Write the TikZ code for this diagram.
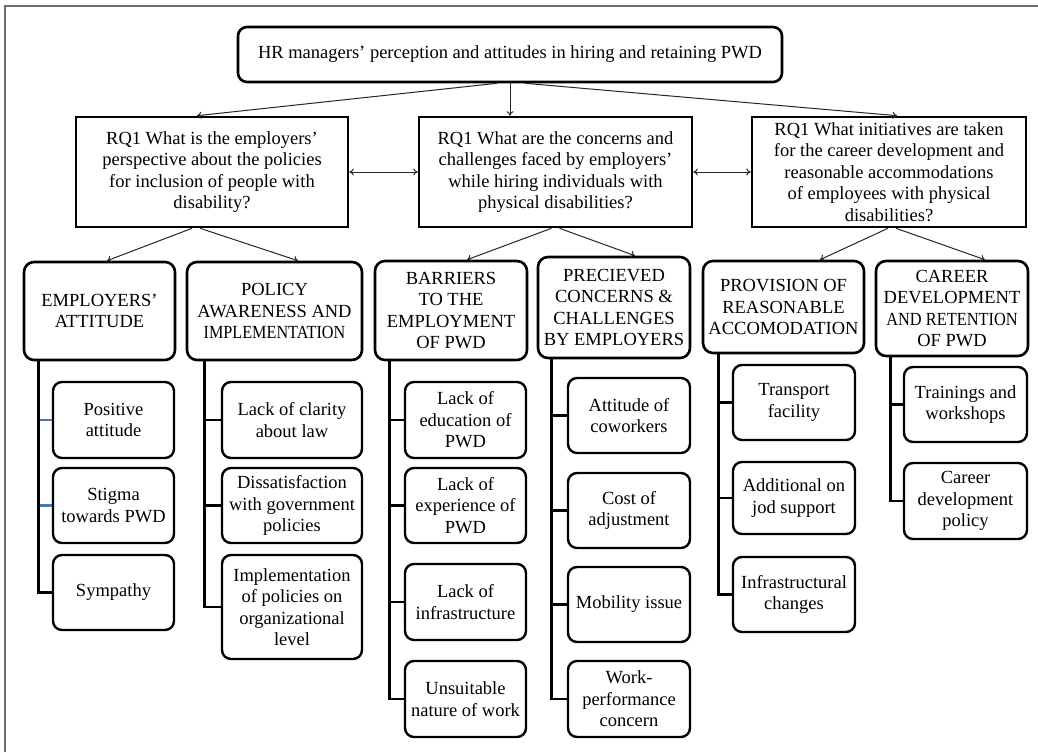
\documentclass[tikz,border=0pt]{standalone}
\usepackage{fontspec}
\usepackage{graphicx}
\setmainfont{Liberation Serif}
\usetikzlibrary{arrows.meta,calc}
\definecolor{framegray}{HTML}{6E6E6E}
\definecolor{branchblue}{HTML}{4A76B0}
\begin{document}
\begin{tikzpicture}[x=1pt,y=-1pt,
  every node/.style={font=\fontsize{18.5}{21.5}\selectfont, align=center, inner xsep=1pt, inner ysep=1pt, fill=white},
  topbox/.style={draw, line width=2.6pt, rounded corners=9pt},
  rqbox/.style={draw, line width=2.6pt},
  catbox/.style={draw, line width=2.6pt, rounded corners=10pt},
  leafbox/.style={draw, line width=2.4pt, rounded corners=9pt},
  arr/.style={-{To[length=4.5pt,width=7pt]}, line width=1pt, draw=black!85},
  darr/.style={{To[length=4.5pt,width=7pt]}-{To[length=4.5pt,width=7pt]}, line width=1pt, draw=black!85},
  trunk/.style={line width=2.6pt},
  bluebranch/.style={line width=2.6pt, draw=branchblue}
]
\useasboundingbox (0,0) rectangle (1038,752);
\draw[framegray, line width=2pt] (5,752) -- (5,6) -- (1038,6);

% top
\node[topbox, minimum width=544pt, minimum height=55pt] (top) at (510,54.5)
  {HR managers’ perception and attitudes in hiring and retaining PWD};

% research questions
\node[rqbox, minimum width=272pt, minimum height=110pt] (rq1) at (212,172)
  {RQ1 What is the employers’\\perspective about the policies\\for inclusion of people with\\disability?};
\node[rqbox, minimum width=273pt, minimum height=110pt] (rq2) at (555.5,172)
  {RQ1 What are the concerns and\\challenges faced by employers’\\while hiring individuals with\\physical disabilities?};
\node[rqbox, minimum width=274pt, minimum height=110pt] (rq3) at (889,172)
  {RQ1 What initiatives are taken\\for the career development and\\reasonable accommodations\\of employees with physical\\disabilities?};

% categories
\node[catbox, minimum width=151pt, minimum height=98pt] (c1) at (99.5,311)
  {EMPLOYERS’\\ATTITUDE};
\node[catbox, minimum width=175pt, minimum height=98pt] (c2) at (274.5,311)
  {POLICY\\AWARENESS AND\\\scalebox{0.875}[1]{IMPLEMENTATION}};
\node[catbox, minimum width=152pt, minimum height=99pt] (c3) at (451,310.5)
  {BARRIERS\\TO THE\\EMPLOYMENT\\OF PWD};
\node[catbox, minimum width=152pt, minimum height=101pt] (c4) at (614,307.5)
  {PRECIEVED\\CONCERNS \&\\CHALLENGES\\BY EMPLOYERS};
\node[catbox, minimum width=161pt, minimum height=92pt] (c5) at (783.5,307)
  {PROVISION OF\\REASONABLE\\ACCOMODATION};
\node[catbox, minimum width=152pt, minimum height=95pt] (c6) at (952,308.5)
  {CAREER\\DEVELOPMENT\\\scalebox{0.885}[1]{AND RETENTION}\\OF PWD};

% leaves
\node[leafbox, minimum width=121pt, minimum height=76pt] (p1) at (113.5,420) {Positive\\attitude};
\node[leafbox, minimum width=121pt, minimum height=75pt] (p2) at (113.5,505.5) {Stigma\\towards PWD};
\node[leafbox, minimum width=121pt, minimum height=75pt] (p3) at (113.5,592.5) {Sympathy};

\node[leafbox, minimum width=140pt, minimum height=76pt] (q1) at (292,420) {Lack of clarity\\about law};
\node[leafbox, minimum width=140pt, minimum height=75pt] (q2) at (292,505.5) {Dissatisfaction\\with government\\policies};
\node[leafbox, minimum width=140pt, minimum height=104pt] (q3) at (292,607) {Implementation\\of policies on\\organizational\\level};

\node[leafbox, minimum width=121pt, minimum height=76pt] (r1) at (465.5,420) {Lack of\\education of\\PWD};
\node[leafbox, minimum width=121pt, minimum height=75pt] (r2) at (465.5,505.5) {Lack of\\experience of\\PWD};
\node[leafbox, minimum width=121pt, minimum height=76pt] (r3) at (465.5,602) {Lack of\\infrastructure};
\node[leafbox, minimum width=121pt, minimum height=76pt] (r4) at (465.5,699) {Unsuitable\\nature of work};

\node[leafbox, minimum width=122pt, minimum height=75pt] (s1) at (629,415.5) {Attitude of\\coworkers};
\node[leafbox, minimum width=122pt, minimum height=75pt] (s2) at (629,510.5) {Cost of\\adjustment};
\node[leafbox, minimum width=122pt, minimum height=75pt] (s3) at (629,604.5) {Mobility issue};
\node[leafbox, minimum width=122pt, minimum height=76pt] (s4) at (629,699) {Work-\\performance\\concern};

\node[leafbox, minimum width=122pt, minimum height=75pt] (t1) at (794,402.5) {Transport\\facility};
\node[leafbox, minimum width=122pt, minimum height=72pt] (t2) at (794,498) {Additional on\\jod support};
\node[leafbox, minimum width=122pt, minimum height=75pt] (t3) at (794,594.5) {Infrastructural\\changes};

\node[leafbox, minimum width=123pt, minimum height=75pt] (u1) at (965.5,404.5) {Trainings and\\workshops};
\node[leafbox, minimum width=123pt, minimum height=76pt] (u2) at (965.5,501) {Career\\development\\policy};

% arrows from top
\draw[arr] ([xshift=-13pt]top.south) -- ([xshift=-15pt]rq1.north);
\draw[arr] (top.south) -- (top.south |- rq2.north);
\draw[arr] ([xshift=15pt]top.south) -- ([xshift=8pt]rq3.north);

% double arrows between RQs
\draw[darr] (rq1.east) -- (rq2.west);
\draw[darr] (rq2.east) -- (rq3.west);

% RQ to categories
\draw[arr] ([xshift=-20pt]rq1.south) -- ([xshift=7.5pt]c1.north);
\draw[arr] ([xshift=-12pt]rq1.south) -- ([xshift=23.5pt]c2.north);
\draw[arr] ([xshift=-4pt]rq2.south) -- ([xshift=16pt]c3.north);
\draw[arr] ([xshift=4pt]rq2.south) -- ([xshift=21pt]c4.north);
\draw[arr] ([xshift=-1pt]rq3.south) -- ([xshift=36.5pt]c5.north);
\draw[arr] ([xshift=7pt]rq3.south) -- ([xshift=33pt]c6.north);

% trunks
\coordinate (k1) at ([xshift=16pt]c1.south west);
\coordinate (k2) at ([xshift=19pt]c2.south west);
\coordinate (k3) at ([xshift=16pt]c3.south west);
\coordinate (k4) at ([xshift=15pt]c4.south west);
\coordinate (k5) at ([xshift=17pt]c5.south west);
\coordinate (k6) at ([xshift=16pt]c6.south west);

\draw[bluebranch] (k1 |- p1.west) -- (p1.west);
\draw[bluebranch] (k1 |- p2.west) -- (p2.west);
\draw[trunk] (k1) |- (p3.west);

\draw[trunk] (k2) |- (q3.west);
\draw[trunk] (k2 |- q1.west) -- (q1.west);
\draw[trunk] (k2 |- q2.west) -- (q2.west);

\draw[trunk] (k3) |- (r4.west);
\draw[trunk] (k3 |- r1.west) -- (r1.west);
\draw[trunk] (k3 |- r2.west) -- (r2.west);
\draw[trunk] (k3 |- r3.west) -- (r3.west);

\draw[trunk] (k4) |- (s4.west);
\draw[trunk] (k4 |- s1.west) -- (s1.west);
\draw[trunk] (k4 |- s2.west) -- (s2.west);
\draw[trunk] (k4 |- s3.west) -- (s3.west);

\draw[trunk] (k5) |- (t3.west);
\draw[trunk] (k5 |- t1.west) -- (t1.west);
\draw[trunk] (k5 |- t2.west) -- (t2.west);

\draw[trunk] (k6) |- (u2.west);
\draw[trunk] (k6 |- u1.west) -- (u1.west);
\end{tikzpicture}
\end{document}
